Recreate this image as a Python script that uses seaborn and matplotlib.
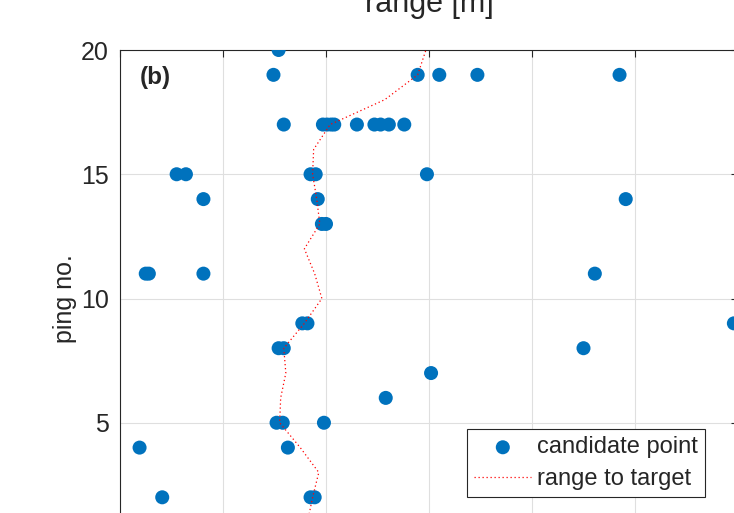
import numpy as np
import matplotlib
matplotlib.use('Agg')
import matplotlib.pyplot as plt
import pandas as pd
import seaborn as sns

# candidate points, grouped by ping number
ping = [20,
        19, 19, 19, 19, 19,
        17, 17, 17, 17, 17, 17, 17, 17, 17, 17,
        15, 15, 15, 15, 15,
        14, 14, 14,
        13, 13,
        11, 11, 11, 11,
        9, 9, 9,
        8, 8, 8,
        7,
        6,
        5, 5, 5,
        4, 4,
        2, 2, 2]
cand_range = [11.54,
              11.49, 12.89, 13.10, 13.47, 14.85,
              11.59, 11.97, 12.01, 12.05, 12.08, 12.30, 12.47, 12.53, 12.61, 12.76,
              10.55, 10.64, 11.85, 11.90, 12.98,
              10.81, 11.92, 14.91,
              11.96, 12.00,
              10.25, 10.28, 10.81, 14.61,
              11.77, 11.82, 15.96,
              11.54, 11.59, 14.50,
              13.02,
              12.58,
              11.52, 11.58, 11.98,
              10.19, 11.63,
              10.41, 11.85, 11.89]

# range to target per ping
target_ping = list(range(1, 21))
target_range = [11.82, 11.87, 11.93, 11.75, 11.55, 11.56, 11.61, 11.59, 11.79, 11.96,
                11.89, 11.79, 11.94, 11.91, 11.87, 11.88, 12.04, 12.57, 12.89, 12.97]

pts = pd.DataFrame({'range': cand_range, 'ping': ping})
tgt = pd.DataFrame({'range': target_range, 'ping': target_ping})

sns.set_style('white')
plt.rcParams['font.family'] = ['Liberation Sans', 'DejaVu Sans']

fig = plt.figure(figsize=(7.34, 5.13), dpi=100)
# axes extends past the figure edges (cropped figure)
ax = fig.add_axes([120/734, 1 - 547/513, 618/734, 497/513])

sns.scatterplot(data=pts, x='range', y='ping', ax=ax, color='#0072BD', s=102,
                edgecolor='none', linewidth=0, label='candidate point', zorder=3)
sns.lineplot(data=tgt, x='range', y='ping', ax=ax, sort=False, estimator=None,
             color='#FF0000', linewidth=0.9, linestyle=(0, (1, 2.2)),
             label='range to target', zorder=4)

ax.set_xlim(10, 16)
ax.set_ylim(0, 20)
ax.set_xticks(range(10, 17))
ax.set_yticks([5, 10, 15, 20])
ax.set_xticklabels([])
ax.grid(True, color='#dfdfdf', linewidth=0.8)
ax.set_axisbelow(True)
ax.tick_params(axis='both', direction='in', length=5, width=0.8, color='#262626',
               top=True, right=True, labelsize=18, labelcolor='#262626', pad=8)
for sp in ax.spines.values():
    sp.set_color('#262626')
    sp.set_linewidth(0.8)
ax.set_xlabel('')
ax.set_ylabel('ping no.', fontsize=18, color='#262626', labelpad=3)

ax.text(10.19, 18.9, '(b)', fontsize=17.5, fontweight='bold', va='center', ha='left')

fig.text(429/734, 1 - 12/513, 'range [m]', fontsize=22, color='#262626',
         ha='center', va='baseline')

leg = ax.legend(loc='lower right', bbox_to_anchor=(705/734, 1 - 497/513),
                bbox_transform=fig.transFigure, borderaxespad=0, fontsize=17,
                fancybox=False, framealpha=1, edgecolor='#262626',
                handlelength=2.4, handletextpad=0.25, borderpad=0.3,
                labelspacing=0.4)
leg.get_frame().set_linewidth(0.8)

fig.savefig('out.png', dpi=100)
